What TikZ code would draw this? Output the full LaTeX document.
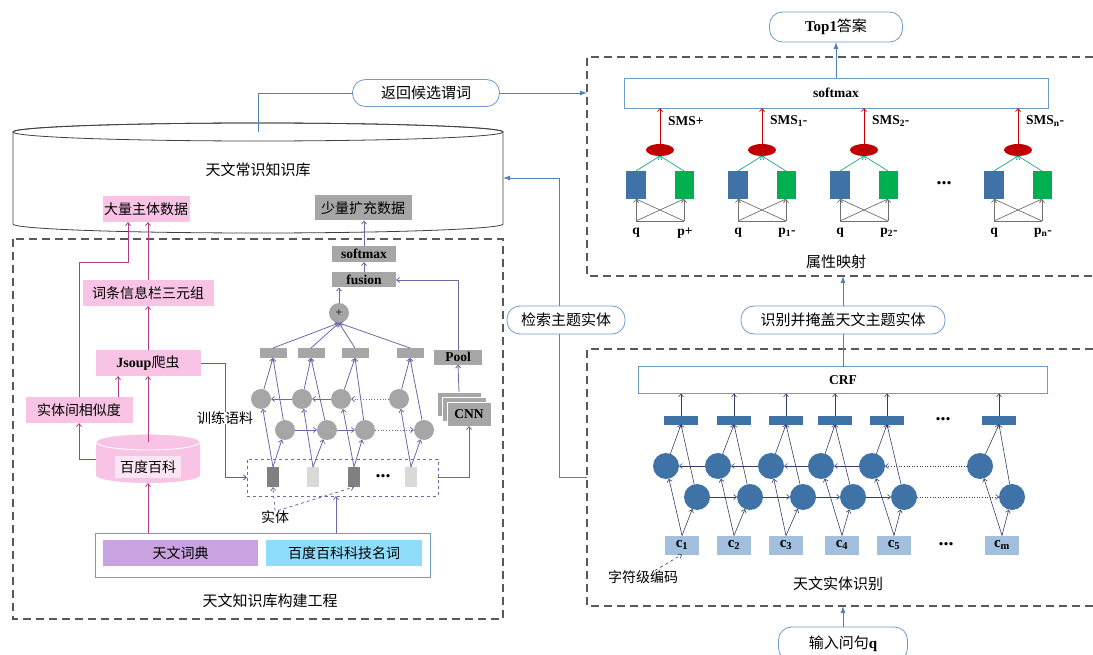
\documentclass[tikz,border=0pt]{standalone}
\usepackage{fontspec}
\setmainfont{Liberation Serif}
\newfontfamily\cjk{Noto Sans CJK SC}
\usetikzlibrary{arrows.meta,shapes.geometric}
\newcommand\setfs[1]{\fontsize{#1}{#1}\selectfont}
\newcommand\lb[1]{{\rmfamily\bfseries #1}}
\definecolor{lnblue}{HTML}{4F81BD}
\definecolor{bdblue}{HTML}{6E9BD0}
\definecolor{pinkf}{HTML}{F8C3E4}
\definecolor{pinkt}{HTML}{FCE6F3}
\definecolor{pinkl}{HTML}{B03C82}
\definecolor{grayf}{HTML}{A6A6A6}
\definecolor{purl}{HTML}{7464A8}
\definecolor{netblue}{HTML}{3F72A6}
\definecolor{cblue}{HTML}{A2C0DD}
\definecolor{navy}{HTML}{333F6A}
\definecolor{redf}{HTML}{C00000}
\definecolor{greenf}{HTML}{00B050}
\definecolor{tealc}{HTML}{1FA38A}
\definecolor{dictp}{HTML}{C9A3DF}
\definecolor{dictc}{HTML}{8EDDFB}
\definecolor{dashg}{HTML}{595959}
\definecolor{tokd}{HTML}{808080}
\definecolor{tokl}{HTML}{D9D9D9}
\definecolor{cylc}{HTML}{404040}
\definecolor{grayl}{HTML}{707070}
\tikzset{
  every node/.append style={inner sep=0pt, outer sep=0pt},
  cn/.style={font=\cjk\setfs{14}},
  cnL/.style={font=\cjk\setfs{15}},
  lat/.style={font=\rmfamily\bfseries\setfs{13.5}},
  dotsf/.style={font=\rmfamily\bfseries\setfs{20}},
  arr/.style={-{Straight Barb[length=3pt,width=5pt]}},
  barr/.style={-{Latex[length=7pt,width=5pt]}},
  bl/.style={draw=lnblue, line width=0.9pt},
  pl/.style={draw=pinkl, line width=0.8pt},
  vl/.style={draw=purl, line width=0.8pt},
  nl/.style={draw=navy, line width=0.6pt},
  gl/.style={draw=grayl, line width=0.7pt},
  tl/.style={draw=tealc, line width=0.7pt},
  rl/.style={draw=red!80!black, line width=0.7pt},
  rbox/.style={draw=bdblue, line width=0.8pt, rounded corners=13pt, fill=white, cnL},
  pbox/.style={fill=pinkf, minimum height=26pt, cn},
  gbox/.style={fill=grayf, lat},
  dbox/.style={draw=dashg, line width=1.1pt, dash pattern=on 8pt off 5pt},
}
\begin{document}
\begin{tikzpicture}[x=1pt,y=-1pt]
\useasboundingbox (0,0) rectangle (1093,655);

% ---------------- knowledge base cylinder ----------------
\draw[draw=cylc, line width=0.8pt, fill=white] (13,132) -- (13,224)
  -- plot[domain=180:0,samples=90] ({258+245*cos(\x)},{224+9*sin(\x)})
  -- (503,132)
  -- plot[domain=0:180,samples=90] ({258+245*cos(\x)},{132-9*sin(\x)}) -- cycle;
\draw[cylc, line width=0.8pt] (258,132) ellipse [x radius=245pt, y radius=9pt];
\node[cnL] (kb) at (258,170) {天文常识知识库};
\coordinate (kbT) at (258,132);
\coordinate (kbR) at (503,178);
\node[pbox, minimum width=87pt] (dl) at (146,209) {大量主体数据};
\node[fill=grayf, cn, minimum width=97pt, minimum height=25pt] (sl) at (363,208) {少量扩充数据};

% ---------------- returning predicates ----------------
\coordinate (tdL) at (587,93);
\node[rbox, minimum width=147pt, minimum height=27pt] (rb1) at (426,93) {返回候选谓词};
\draw[bl] (kbT) |- (rb1.west);
\draw[bl,barr] (rb1.east) -- (tdL);

% ---------------- retrieve subject entity ----------------
\coordinate (rdL) at (587,477);
\draw[bl,barr] (rdL) -- (559,477) -- (559,178) -- (kbR);
\node[rbox, minimum width=118pt, minimum height=28pt] (jsb) at (566,320) {检索主题实体};

% ---------------- left dashed box ----------------
\draw[dbox] (13,239) rectangle (503,619);
\node[pbox, minimum width=131pt] (ct) at (148,293) {词条信息栏三元组};
\node[pbox, minimum width=105pt] (js) at (148,363) {\lb{Jsoup}爬虫};
\node[pbox, minimum width=107pt] (sim) at (79,410) {实体间相似度};

% baidu cylinder
\fill[pinkf] (96,442) -- (96,475)
  -- plot[domain=180:0,samples=40] ({148+52*cos(\x)},{475+8*sin(\x)})
  -- (200,442)
  -- plot[domain=0:180,samples=40] ({148+52*cos(\x)},{442-8*sin(\x)}) -- cycle;
\draw[white, line width=0.9pt] (148,442) ellipse [x radius=52pt, y radius=8pt];
\node[fill=pinkt, cn, minimum width=66pt, minimum height=22pt] (bd) at (148,467) {百度百科};
\coordinate (bdT) at (148,442);
\coordinate (bdB) at (148,483);
\coordinate (bdL) at (96,459);

% source box
\node[draw=bdblue, line width=0.8pt, minimum width=335pt, minimum height=44pt] (src) at (262.5,555) {};
\node[fill=dictp, cn, minimum width=155pt, minimum height=26pt] (tw) at (180.5,553) {天文词典};
\node[fill=dictc, cn, minimum width=156pt, minimum height=26pt] (bk) at (344,553) {百度百科科技名词};
\node[cnL] (lt) at (270,601) {天文知识库构建工程};

% pink connectors
\draw[pl,arr] (src.north -| bdB) -- (bdB);
\draw[pl,arr] (bdT) -- (js.south);
\draw[pl,arr] (bdL) -| (sim.south);
\draw[pl,arr] ([xshift=39pt]sim.north) -- ([xshift=39pt]sim.north |- js.south);
\draw[pl,arr] (sim.north) -- ++(0,-135) -| ([xshift=-18pt]dl.south);
\draw[pl,arr] (js.north) -- (ct.south);
\draw[pl,arr] (ct.north) -- (ct.north |- dl.south);

% tokens
\node[draw=purl, line width=0.8pt, dashed, minimum width=191pt, minimum height=37pt] (tokbox) at (342.5,477.5) {};
\node[fill=tokd, minimum width=12pt, minimum height=20pt] (t1) at (273,477) {};
\node[fill=tokl, minimum width=12pt, minimum height=20pt] (t2) at (313,477) {};
\node[fill=tokd, minimum width=12pt, minimum height=20pt] (t3) at (354,477) {};
\node[fill=tokl, minimum width=12pt, minimum height=20pt] (t4) at (411,477) {};
\node[dotsf] (tdots) at (383,476) {...};
\node[cn] (st) at (275,517) {实体};
\node[cn] (trl) at (225,418) {训练语料};
\draw[pl] (js.east) -| (trl.north);
\draw[pl,arr] (trl.south) |- (tokbox.west);
\draw[vl,dashed,arr] (st.north) -- (t1.south);
\draw[vl,dashed,arr] ([xshift=3pt]st.north) -- (t3.south);
\draw[vl,arr] (src.north -| 336,0) -- (tokbox.south -| 336,0);

% left BiLSTM
\foreach \i/\ux/\lx/\ox in {1/261/285/273, 2/302/327/311, 3/341/365/355, 4/399/424/410} {
  \node[circle, fill=grayf, minimum size=20pt] (u\i) at (\ux,399) {};
  \node[circle, fill=grayf, minimum size=20pt] (l\i) at (\lx,430) {};
  \node[fill=grayf, minimum width=27pt, minimum height=10pt] (o\i) at (\ox,353) {};
}
\foreach \i in {1,2,3,4} {
  \draw[vl,arr] (t\i.north) -- (u\i);
  \draw[vl,arr] (t\i.north) -- (l\i);
  \draw[vl,arr] (u\i) -- (o\i.south);
  \draw[vl,arr] (l\i) -- (o\i.south);
}
\draw[vl,arr] (u2) -- (u1);
\draw[vl,arr] (u3) -- (u2);
\draw[vl,arr,dotted] (u4) -- (u3);
\draw[vl,arr] (l1) -- (l2);
\draw[vl,arr] (l2) -- (l3);
\draw[vl,arr,dotted] (l3) -- (l4);

\node[circle, fill=grayf, minimum size=20pt, font=\setfs{12}] (pls) at (339,313) {+};
\foreach \i in {1,2,3,4} { \draw[vl,arr] (o\i.north) -- (pls.south); }
\node[gbox, minimum width=64pt, minimum height=15pt] (fus) at (364,280) {fusion};
\node[gbox, minimum width=64pt, minimum height=16pt] (lsm) at (364,254) {softmax};
\draw[vl,arr] (pls.north) -- (pls.north |- fus.south);
\draw[vl,arr] (fus.north) -- (lsm.south);
\draw[vl,arr] (lsm.north) -- (lsm.north |- sl.south);

% CNN
\node[fill=grayf, draw=white, line width=0.8pt, minimum width=44pt, minimum height=24pt] (cnnA) at (459,404) {};
\node[fill=grayf, draw=white, line width=0.8pt, minimum width=44pt, minimum height=24pt] (cnnB) at (464,409) {};
\node[fill=grayf, draw=white, line width=0.8pt, minimum width=44pt, minimum height=24pt, lat] (cnnF) at (469,414) {CNN};
\node[gbox, minimum width=48pt, minimum height=15pt] (pool) at (458,357) {Pool};
\draw[vl,arr] (tokbox.east) -| (cnnF.south);
\draw[vl,arr] (cnnA.north) -- (pool.south);
\draw[vl,arr] (pool.north) |- (fus.east);

% ---------------- right top: attribute mapping ----------------
\node[rbox, minimum width=133pt, minimum height=30pt] (top1) at (836,27) {\lb{Top1}答案};
\draw[dbox] (1093,57) -- (587,57) -- (587,276) -- (1093,276);
\node[draw=bdblue, line width=0.8pt, minimum width=424pt, minimum height=30pt, lat] (smx) at (836,93) {softmax};
\draw[bl,barr] (smx.north) -- (top1.south);
\foreach \gx/\i/\plab/\smsl in {660/1/{p+}/{SMS+}, 762/2/{p\textsubscript{1}-}/{SMS\textsubscript{1}-}, 864/3/{p\textsubscript{2}-}/{SMS\textsubscript{2}-}, 1018/4/{p\textsubscript{n}-}/{SMS\textsubscript{n}-}} {
  \node[ellipse, fill=redf, minimum width=28pt, minimum height=12pt] (e\i) at (\gx,150) {};
  \node[fill=netblue, minimum width=20pt, minimum height=28pt] (qb\i) at (\gx-24,185) {};
  \node[fill=greenf, minimum width=19pt, minimum height=28pt] (pb\i) at (\gx+24,185) {};
  \node[lat] (q\i) at (\gx-24,233) {q};
  \node[lat] (p\i) at (\gx+25,233) {\plab};
  \coordinate (qa\i) at (\gx-24,221);
  \coordinate (pa\i) at (\gx+24,221);
  \draw[gl] (qa\i) -- (pa\i);
  \draw[gl,arr] (qa\i) -- (qb\i.south);
  \draw[gl,arr] (qa\i) -- (pb\i.south);
  \draw[gl,arr] (pa\i) -- (pb\i.south);
  \draw[gl,arr] (pa\i) -- (qb\i.south);
  \draw[tl,arr] (qb\i.north) -- (e\i.south);
  \draw[tl,arr] (pb\i.north) -- (e\i.south);
  \draw[rl,arr] (e\i.north) -- (e\i.north |- smx.south);
  \node[lat, anchor=west] (s\i) at (\gx+8,121) {\smsl};
}
\node[dotsf] (gdots) at (944,183) {...};
\node[cnL] (ysys) at (836,262) {属性映射};

% ---------------- right bottom: entity recognition ----------------
\draw[dbox] (1093,349) -- (587,349) -- (587,606) -- (1093,606);
\coordinate (tdB) at (843,276);
\coordinate (rdB) at (843,606);
\node[draw=bdblue, line width=0.8pt, minimum width=409pt, minimum height=27pt, lat] (crf) at (843,380) {CRF};
\node[rbox, minimum width=204pt, minimum height=28pt] (sb) at (843,320) {识别并掩盖天文主题实体};
\draw[bl] (crf.north) -- (sb.south);
\draw[bl,barr] (sb.north) -- (tdB);

\foreach \i/\cx/\ux/\lx/\ox/\lab in {1/682/666/697/681/1, 2/734/718/750/734/2, 3/786/771/803/786/3, 4/842/821/853/835/4, 5/894/872/904/887/5, 6/1002/980/1012/999/m} {
  \node[fill=cblue, minimum width=34pt, minimum height=19pt, font=\rmfamily\bfseries\setfs{15}] (c\i) at (\cx,545) {c\textsubscript{\lab}};
  \node[circle, fill=netblue, minimum size=26pt] (ru\i) at (\ux,466) {};
  \node[circle, fill=netblue, minimum size=26pt] (rl\i) at (\lx,497) {};
  \node[fill=netblue, minimum width=34pt, minimum height=9pt] (ro\i) at (\ox,420) {};
}
\foreach \i in {1,...,6} {
  \draw[nl,arr] (c\i.north) -- (ru\i);
  \draw[nl,arr] (c\i.north) -- (rl\i);
  \draw[nl,arr] (ru\i) -- (ro\i.south);
  \draw[nl,arr] (rl\i) -- (ro\i.south);
  \draw[nl,arr] (ro\i.north) -- (ro\i.north |- crf.south);
}
\draw[nl,arr] (ru2) -- (ru1);
\draw[nl,arr] (ru3) -- (ru2);
\draw[nl,arr] (ru4) -- (ru3);
\draw[nl,arr] (ru5) -- (ru4);
\draw[nl,arr,dotted] (ru6) -- (ru5);
\draw[nl,arr] (rl1) -- (rl2);
\draw[nl,arr] (rl2) -- (rl3);
\draw[nl,arr] (rl3) -- (rl4);
\draw[nl,arr] (rl4) -- (rl5);
\draw[nl,arr,dotted] (rl5) -- (rl6);
\node[dotsf] (odots) at (943,419) {...};
\node[dotsf] (cdots) at (946,544) {...};
\node[cn] (zf) at (643,577) {字符级编码};
\draw[nl,dashed,arr] ([xshift=12pt]zf.north) -- (c1.south);
\node[cnL] (swsb) at (838,584) {天文实体识别};
\node[rbox, minimum width=129pt, minimum height=34pt] (inq) at (843,644) {输入问句\lb{q}};
\draw[bl,barr] (inq.north) -- (rdB);
\end{tikzpicture}
\end{document}
